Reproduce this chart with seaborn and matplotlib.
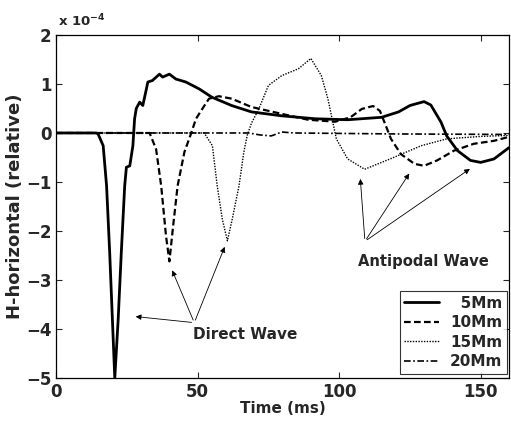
import pandas as pd
import seaborn as sns
from matplotlib import pyplot as plt

# time axis in ms, field values in units of 1e-4
t_5mm = [0, 14, 14.8, 16.6, 17.8, 18.9, 20.1, 20.7, 21.9, 23.0, 24.2, 24.8, 26.0, 27.1, 27.7, 28.3,
         29.5, 30.6, 32.4, 34.0, 36.5, 37.6, 40.0, 42.3, 45.8, 50.5, 55.0, 62.0, 69.0, 79.7,
         91.5, 103.0, 115.0, 121.0, 125.0, 130.0, 132.4, 136.0, 138.0, 141.8, 146.4, 150.0,
         154.7, 160.0]
h_5mm = [0, 0, -0.02, -0.26, -1.08, -2.44, -4.15, -5.0, -3.8, -2.44, -1.08, -0.7, -0.67, -0.26,
         0.29, 0.5, 0.63, 0.56, 1.04, 1.07, 1.2, 1.14, 1.2, 1.1, 1.04, 0.9, 0.73, 0.56, 0.43,
         0.35, 0.29, 0.27, 0.32, 0.43, 0.56, 0.64, 0.57, 0.22, -0.06, -0.36, -0.56, -0.6,
         -0.53, -0.3]

t_10mm = [0, 33.0, 35.3, 37.1, 38.8, 40.0, 41.2, 42.9, 45.3, 47.6, 49.4, 51.6, 54.0, 57.5, 62.0,
          69.0, 79.7, 89.0, 98.6, 104.0, 108.0, 112.0, 114.4, 116.0, 118.3, 121.8, 126.6,
          130.0, 134.6, 140.6, 147.6, 154.7, 160.0]
h_10mm = [0, 0, -0.33, -1.08, -2.1, -2.62, -1.96, -1.08, -0.39, -0.02, 0.29, 0.49, 0.7, 0.75,
          0.7, 0.53, 0.39, 0.27, 0.23, 0.32, 0.49, 0.55, 0.45, 0.22, -0.12, -0.43, -0.63,
          -0.67, -0.56, -0.36, -0.22, -0.16, -0.08]

t_15mm = [0, 52.3, 55.2, 56.9, 58.7, 60.5, 62.2, 64.6, 66.3, 67.5, 69.0, 71.6, 75.0, 79.7, 85.6,
          90.0, 93.7, 96.0, 99.0, 103.0, 109.0, 118.0, 129.0, 138.0, 150.0, 160.0]
h_15mm = [0, 0, -0.26, -1.08, -1.76, -2.2, -1.76, -1.08, -0.39, -0.05, 0.2, 0.49, 0.97, 1.17,
          1.31, 1.52, 1.17, 0.7, -0.12, -0.53, -0.74, -0.53, -0.26, -0.12, -0.07, -0.05]

t_20mm = [0, 68.0, 72.0, 76.0, 79.7, 84.0, 120.0, 160.0]
h_20mm = [0, 0, -0.04, -0.06, 0.02, 0.0, -0.02, -0.03]

labels = ["\u20075Mm", "10Mm", "15Mm", "20Mm"]

sns.set_style("ticks")
plt.rcParams['font.family'] = ['DejaVu Sans']
plt.rcParams['font.weight'] = 'bold'

fig = plt.figure(figsize=(5.11, 4.21), dpi=100)
ax = fig.add_axes([0.110, 0.102, 0.886, 0.815])

series = [(t_5mm, h_5mm, '-', 2.0), (t_10mm, h_10mm, (0, (3, 1.5)), 1.6),
          (t_15mm, h_15mm, (0, (1, 1)), 1.0), (t_20mm, h_20mm, (0, (4, 1.5, 1, 1.5)), 1.2)]
for (t, h, ls, lw), lab in zip(series, labels):
    df = pd.DataFrame({'t': t, 'h': h})
    sns.lineplot(data=df, x='t', y='h', ax=ax, color='black', linestyle=ls,
                 linewidth=lw, label=lab)

ax.set_xlim(0, 160)
ax.set_ylim(-5, 2)
ax.set_xticks([0, 50, 100, 150])
ax.set_yticks([-5, -4, -3, -2, -1, 0, 1, 2])
ax.set_yticklabels(['\u22125', '\u22124', '\u22123', '\u22122', '\u22121', '0', '1', '2'])
ax.tick_params(direction='in', top=True, right=True, labelsize=12, length=4, width=0.8)
for s in ax.spines.values():
    s.set_linewidth(0.9)
    s.set_color('black')
ax.set_xlabel("Time (ms)", fontsize=11, fontweight='bold', labelpad=0)
ax.set_ylabel("H-horizontal (relative)", fontsize=13, fontweight='bold', labelpad=1)
ax.text(0.003, 1.015, "x 10$^{-4}$", transform=ax.transAxes, fontsize=9.5, fontweight='bold',
        va='bottom', ha='left')

arrow = dict(arrowstyle='-|>', color='black', lw=0.6, mutation_scale=8)
for tip in [(27.1, -3.74), (40.6, -2.75), (59.9, -2.27)]:
    ax.annotate("", xy=tip, xytext=(48.8, -3.87), arrowprops=arrow)
ax.text(48.5, -4.11, "Direct Wave", fontsize=11, fontweight='bold', va='center', ha='left')

for tip in [(107.4, -0.88), (125.3, -0.78), (147.0, -0.7)]:
    ax.annotate("", xy=tip, xytext=(109.1, -2.21), arrowprops=arrow)
ax.text(106.5, -2.62, "Antipodal Wave", fontsize=10.6, fontweight='bold', va='center', ha='left')

leg = ax.legend(loc='lower right', bbox_to_anchor=(0.996, 0.012), fontsize=11, frameon=True,
                fancybox=False, edgecolor='black', handlelength=2.3, handletextpad=0.7,
                borderaxespad=0.0, labelspacing=0.3, borderpad=0.3)
leg.get_frame().set_linewidth(0.8)

fig.savefig("out.png", dpi=100)
